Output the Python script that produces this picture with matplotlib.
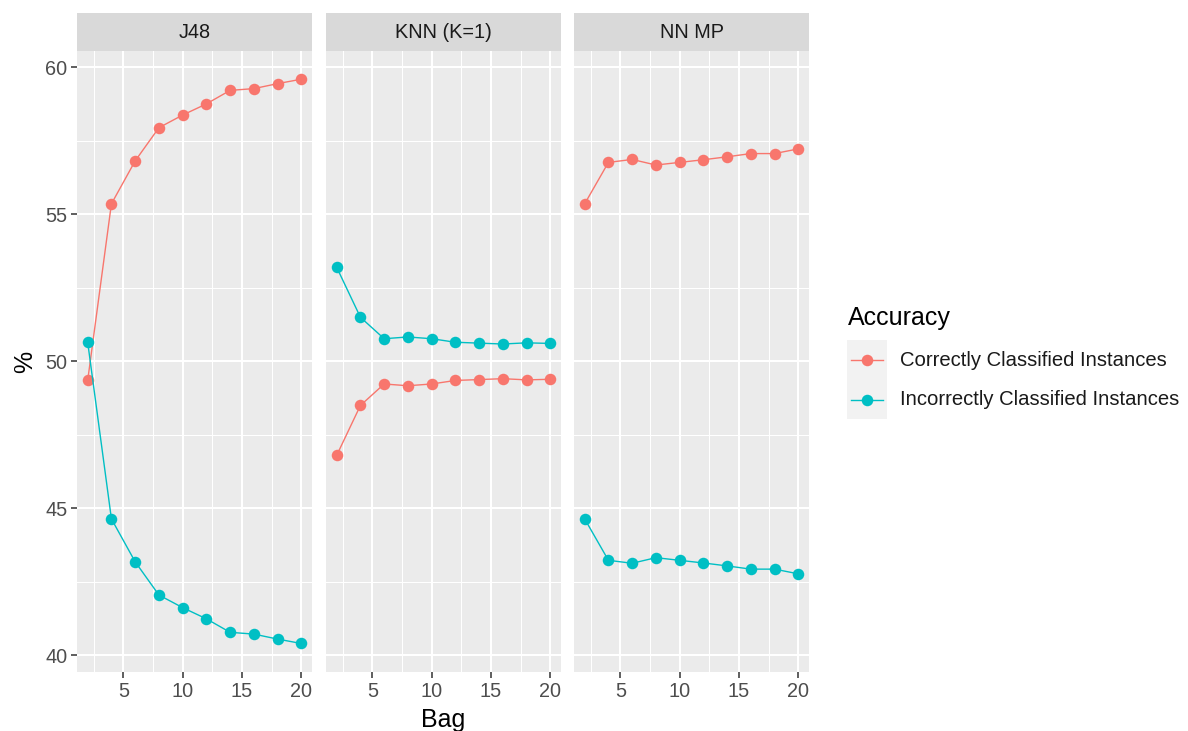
import matplotlib
matplotlib.use("Agg")
import matplotlib.pyplot as plt
from matplotlib.lines import Line2D
from matplotlib.patches import Rectangle
import numpy as np

plt.rcParams['font.family'] = ['Liberation Sans', 'DejaVu Sans']

bags = [2, 4, 6, 8, 10, 12, 14, 16, 18, 20]
models = ["J48", "KNN (K=1)", "NN MP"]
correct = {
    "J48": [49.35, 55.36, 56.82, 57.95, 58.38, 58.76, 59.22, 59.28, 59.45, 59.60],
    "KNN (K=1)": [46.80, 48.50, 49.23, 49.17, 49.23, 49.35, 49.38, 49.41, 49.37, 49.39],
    "NN MP": [55.36, 56.77, 56.87, 56.68, 56.77, 56.86, 56.96, 57.07, 57.07, 57.23],
}
incorrect = {
    "J48": [50.65, 44.64, 43.18, 42.05, 41.62, 41.24, 40.78, 40.72, 40.55, 40.40],
    "KNN (K=1)": [53.20, 51.50, 50.77, 50.83, 50.77, 50.65, 50.62, 50.59, 50.63, 50.61],
    "NN MP": [44.64, 43.23, 43.13, 43.32, 43.23, 43.14, 43.04, 42.93, 42.93, 42.77],
}
series_names = ["Correctly Classified Instances", "Incorrectly Classified Instances"]
colors = ["#F8766D", "#00BFC4"]

W, H = 1188, 731
fig = plt.figure(figsize=(W / 100, H / 100), dpi=100)

lefts = [77, 326, 574]
pw = 235
top, bottom = 51, 672
strip_h = 38

for i, m in enumerate(models):
    ax = fig.add_axes([lefts[i] / W, 1 - bottom / H, pw / W, (bottom - top) / H])
    ax.set_facecolor("#EBEBEB")
    for s in ax.spines.values():
        s.set_visible(False)
    ax.set_xlim(1.1, 20.9)
    ax.set_ylim(39.43, 60.56)
    ax.set_xticks([5, 10, 15, 20])
    ax.set_yticks([40, 45, 50, 55, 60])
    ax.set_xticks([2.5, 7.5, 12.5, 17.5], minor=True)
    ax.set_yticks([42.5, 47.5, 52.5, 57.5], minor=True)
    ax.grid(which="major", color="white", linewidth=1.5)
    ax.grid(which="minor", color="white", linewidth=0.75)
    ax.set_axisbelow(True)
    ax.tick_params(which="major", length=4, width=1.1, color="#333333",
                   labelsize=14.3, labelcolor="#4D4D4D", pad=3)
    ax.tick_params(which="minor", length=0)
    if i > 0:
        ax.tick_params(axis="y", which="major", length=0, labelleft=False)
    for vals, c in zip([correct[m], incorrect[m]], colors):
        ax.plot(bags, vals, color=c, linewidth=1.0, marker="o", markersize=8.3,
                markeredgewidth=0, zorder=3, clip_on=False)
    # facet strip
    fig.add_artist(Rectangle((lefts[i] / W, 1 - top / H), pw / W, strip_h / H,
                             transform=fig.transFigure, facecolor="#D9D9D9",
                             edgecolor="none"))
    fig.text((lefts[i] + pw / 2) / W, 1 - (top - strip_h / 2) / H, m,
             ha="center", va="center", fontsize=14.3, color="#1A1A1A")
    if i == 0:
        ax.set_ylabel("%", fontsize=18, labelpad=6)
    if i == 1:
        ax.set_xlabel("Bag", fontsize=18, labelpad=5)

# legend
fig.text(848 / W, 1 - 318 / H, "Accuracy", ha="left", va="center", fontsize=18)
fig.add_artist(Rectangle((847 / W, 1 - 419 / H), 40 / W, 79 / H,
                         transform=fig.transFigure, facecolor="#F2F2F2",
                         edgecolor="none"))
for k, (name, c) in enumerate(zip(series_names, colors)):
    yy = 1 - (360 + 39.5 * k) / H
    fig.add_artist(Line2D([851 / W, 883 / W], [yy, yy], transform=fig.transFigure,
                          color=c, linewidth=1.0))
    fig.add_artist(Line2D([867 / W], [yy], transform=fig.transFigure, color=c,
                          marker="o", markersize=8.3, markeredgewidth=0))
    fig.text(900 / W, yy, name, ha="left", va="center", fontsize=14.6, color="#1A1A1A")

fig.savefig("out.png", dpi=100)
